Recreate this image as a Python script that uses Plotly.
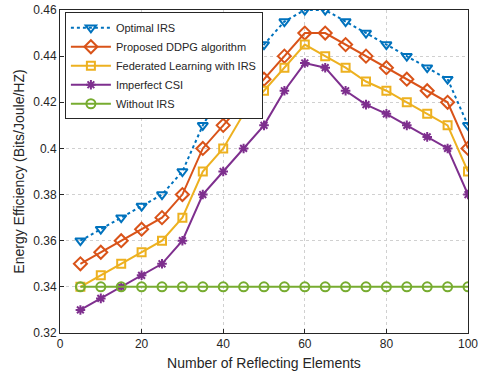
import plotly.graph_objects as go

elements = list(range(5, 101, 5))

optimal_irs = [0.36, 0.365, 0.37, 0.375, 0.38, 0.39, 0.41, 0.425, 0.435, 0.445,
               0.455, 0.46, 0.46, 0.455, 0.45, 0.445, 0.44, 0.435, 0.43, 0.41]
proposed_ddpg = [0.35, 0.355, 0.36, 0.365, 0.37, 0.38, 0.40, 0.41, 0.42, 0.43,
                 0.44, 0.45, 0.45, 0.445, 0.44, 0.435, 0.43, 0.425, 0.42, 0.40]
federated = [0.34, 0.345, 0.35, 0.355, 0.36, 0.37, 0.39, 0.40, 0.415, 0.425,
             0.435, 0.445, 0.44, 0.435, 0.429, 0.425, 0.42, 0.415, 0.41, 0.39]
imperfect_csi = [0.33, 0.335, 0.34, 0.345, 0.35, 0.36, 0.38, 0.39, 0.40, 0.41,
                 0.425, 0.437, 0.435, 0.425, 0.419, 0.415, 0.41, 0.405, 0.40, 0.38]
without_irs = [0.34] * 20

y_ticks = [0.32, 0.34, 0.36, 0.38, 0.40, 0.42, 0.44, 0.46]
y_tick_labels = ["0.32", "0.34", "0.36", "0.38", "0.4", "0.42", "0.44", "0.46"]
x_ticks = [0, 20, 40, 60, 80, 100]

series = [
    ("Optimal IRS", optimal_irs, "#0072BD", "dot", "triangle-down-open", 9),
    ("Proposed DDPG algorithm", proposed_ddpg, "#D95319", "solid", "diamond-open", 10),
    ("Federated Learning with IRS", federated, "#EDB120", "solid", "square-open", 8),
    ("Imperfect CSI", imperfect_csi, "#7E2F8E", "solid", "asterisk-open", 8),
    ("Without IRS", without_irs, "#77AC30", "solid", "circle-open", 9),
]

fig = go.Figure()
for name, vals, color, dash, symbol, size in series:
    fig.add_trace(go.Scatter(
        x=elements, y=vals, name=name, mode="lines+markers",
        line=dict(color=color, width=2, dash=dash),
        marker=dict(symbol=symbol, size=size, color=color,
                    line=dict(color=color, width=2)),
    ))

axis_common = dict(
    showline=True, linecolor="#262626", linewidth=1, mirror=True,
    ticks="inside", ticklen=4, tickcolor="#262626",
    showgrid=True, gridcolor="#d0d0d0", griddash="dot", gridwidth=1,
    zeroline=False, tickfont=dict(size=12, color="#262626"), automargin=False,
)

fig.update_layout(
    width=479, height=376,
    margin=dict(l=60, r=11, t=10, b=43),
    paper_bgcolor="white", plot_bgcolor="white",
    font=dict(family="Liberation Sans, Arial, sans-serif", size=12, color="#262626"),
    xaxis=dict(range=[0, 100], tickvals=x_ticks,
               title=dict(text="Number of Reflecting Elements", font=dict(size=14), standoff=7),
               **axis_common),
    yaxis=dict(range=[0.32, 0.46], tickvals=y_ticks, ticktext=y_tick_labels,
               title=dict(text="Energy Efficiency (Bits/Joule/HZ)", font=dict(size=14), standoff=5),
               **axis_common),
    legend=dict(x=0.012, y=0.993, xanchor="left", yanchor="top",
                bgcolor="white", bordercolor="#262626", borderwidth=1,
                font=dict(size=11), tracegroupgap=0, itemwidth=40),
    showlegend=True,
)

fig.write_html("out.html")
